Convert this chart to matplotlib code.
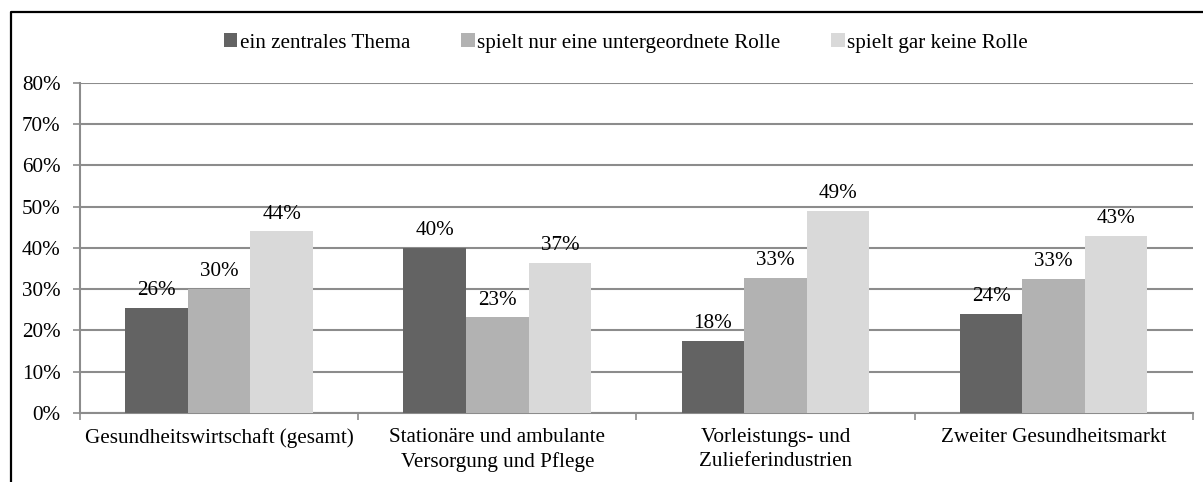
import matplotlib
matplotlib.use('Agg')
import matplotlib.pyplot as plt
from matplotlib.lines import Line2D
import numpy as np

plt.rcParams['font.family'] = ['Liberation Serif', 'DejaVu Serif']

categories = ['Gesundheitswirtschaft (gesamt)',
              'Stationäre und ambulante\nVersorgung und Pflege',
              'Vorleistungs- und\nZulieferindustrien',
              'Zweiter Gesundheitsmarkt']
series_names = ['ein zentrales Thema',
                'spielt nur eine untergeordnete Rolle',
                'spielt gar keine Rolle']
zentral = [25.5, 40.0, 17.5, 24.0]
untergeordnet = [30.0, 23.2, 32.8, 32.5]
keine = [44.0, 36.3, 49.0, 42.9]
labels = [['26%', '40%', '18%', '24%'],
          ['30%', '23%', '33%', '33%'],
          ['44%', '37%', '49%', '43%']]
colors = ['#636363', '#b2b2b2', '#d9d9d9']
FS = 15.2

W, H = 1203, 482
fig = plt.figure(figsize=(W / 100, H / 100), dpi=100)
ax = fig.add_axes([80 / W, 1 - 413 / H, (1192.7 - 80) / W, (413 - 82.6) / H])

x = np.arange(len(categories))
bw = 0.225
for k, vals in enumerate([zentral, untergeordnet, keine]):
    bars = ax.bar(x + (k - 1) * bw, vals, bw, color=colors[k],
                  label=series_names[k], zorder=3)
    for b, lab in zip(bars, labels[k]):
        ax.annotate(lab, (b.get_x() + b.get_width() / 2, b.get_height()),
                    xytext=(0, 5.5), textcoords='offset points',
                    ha='center', va='bottom', fontsize=FS)

ax.set_xlim(-0.5, len(categories) - 0.5)
ax.set_ylim(0, 80)
ax.set_yticks(np.arange(0, 81, 10))
ax.set_yticklabels([f'{v}%' for v in range(0, 81, 10)], fontsize=FS)
ax.yaxis.grid(True, color='#8c8c8c', linewidth=1.5, zorder=0)
ax.set_axisbelow(True)

ax.set_xticks(np.arange(-0.5, len(categories), 1.0))
ax.set_xticklabels([])
ax.set_xticks(x, minor=True)
ax.set_xticklabels(categories, minor=True, fontsize=FS, linespacing=1.35)
ax.tick_params(axis='x', which='minor', length=0, pad=11)
ax.tick_params(axis='x', which='major', length=5, color='#8c8c8c', width=1.2)
ax.tick_params(axis='y', length=5, color='#8c8c8c', width=1.2, pad=9)

for s in ['top', 'right']:
    ax.spines[s].set_visible(False)
for s in ['left', 'bottom']:
    ax.spines[s].set_color('#8c8c8c')
    ax.spines[s].set_linewidth(1.5)

fig.legend(loc='center', bbox_to_anchor=(626 / W, 1 - 43 / H), ncol=3,
           frameon=False, fontsize=FS, handlelength=0.65, handleheight=0.65,
           handletextpad=0.12, columnspacing=2.4)

# outer chart frame (top and left edge visible)
fig.add_artist(Line2D([10.5 / W, 10.5 / W, 1.0], [0.0, 1 - 12 / H, 1 - 12 / H],
                      transform=fig.transFigure, color='black', linewidth=1.6))

fig.savefig('out.png', dpi=100)
